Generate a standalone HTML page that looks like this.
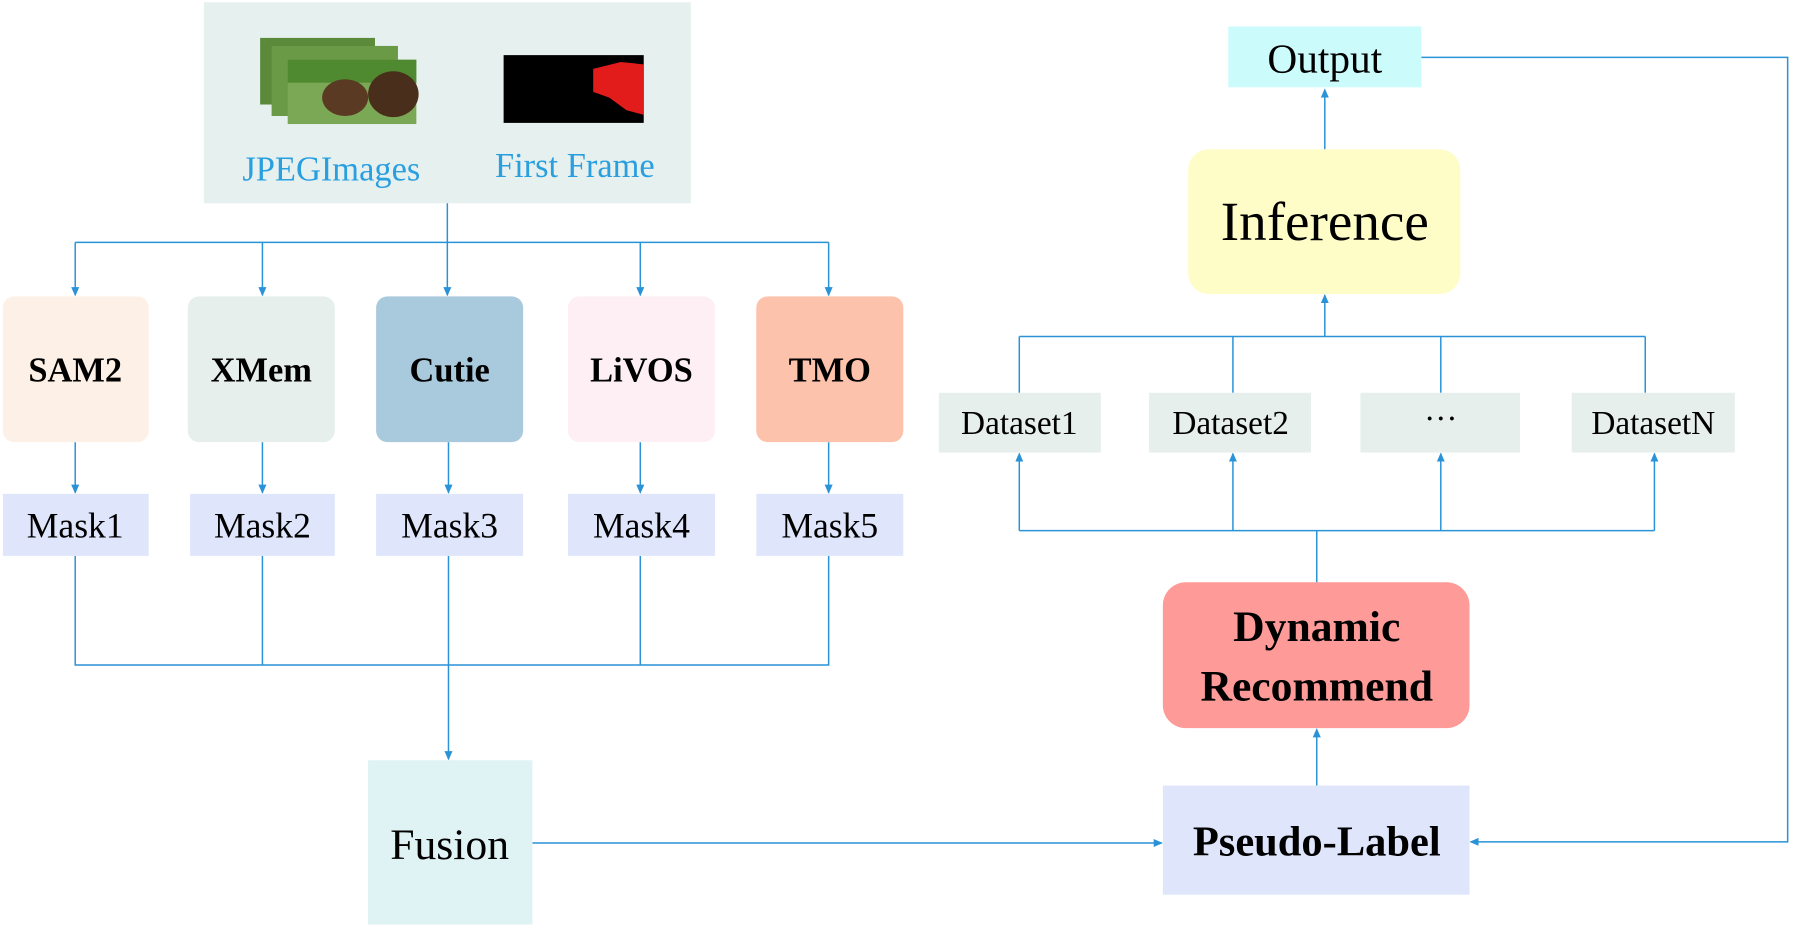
<!DOCTYPE html>
<html><head><meta charset="utf-8"><style>html,body{margin:0;padding:0;background:#fff;}svg{display:block}svg text{font-family:"Liberation Serif",serif;}</style></head>
<body>
<svg width="1802" height="928" viewBox="0 0 1568 808" xmlns="http://www.w3.org/2000/svg" font-family="'Liberation Serif', serif">
<defs><marker id="a" markerWidth="8" markerHeight="8" refX="7" refY="4" orient="auto" markerUnits="userSpaceOnUse"><path d="M0,0.5 L8,4 L0,7.5 Z" fill="#2a92d6"/></marker></defs>
<rect x="177" y="2" width="424" height="175" fill="#e6f0ef"/>
<rect x="226" y="33" width="100" height="58" fill="#5a8a3a"/>
<rect x="236" y="40" width="110" height="61" fill="#6a9a45"/>
<rect x="250" y="52" width="112" height="56" fill="#7aa855"/>
<rect x="250" y="52" width="112" height="20" fill="#4f8a30"/>
<ellipse cx="300" cy="85" rx="20" ry="16" fill="#5a3a22"/>
<ellipse cx="342" cy="82" rx="22" ry="20" fill="#4a2e1c"/>
<rect x="438" y="48" width="122" height="59" fill="#000"/>
<path d="M516,60 L540,54 L560,56 L560,100 L545,96 L530,85 L516,80 Z" fill="#e21b1b"/>
<text x="288" y="157" font-size="30" fill="#2a9fe0" text-anchor="middle">JPEGImages</text>
<text x="500" y="154" font-size="30" fill="#2a9fe0" text-anchor="middle">First Frame</text>
<g stroke="#2a92d6" stroke-width="1.3" fill="none">
<line x1="389" y1="177" x2="389" y2="211"/>
<line x1="65" y1="211" x2="721" y2="211"/>
<line x1="65" y1="211" x2="65" y2="257" marker-end="url(#a)"/>
<line x1="228" y1="211" x2="228" y2="257" marker-end="url(#a)"/>
<line x1="389" y1="211" x2="389" y2="257" marker-end="url(#a)"/>
<line x1="557" y1="211" x2="557" y2="257" marker-end="url(#a)"/>
<line x1="721" y1="211" x2="721" y2="257" marker-end="url(#a)"/>
<line x1="65" y1="385" x2="65" y2="429" marker-end="url(#a)"/>
<line x1="228" y1="385" x2="228" y2="429" marker-end="url(#a)"/>
<line x1="390" y1="385" x2="390" y2="429" marker-end="url(#a)"/>
<line x1="557" y1="385" x2="557" y2="429" marker-end="url(#a)"/>
<line x1="721" y1="385" x2="721" y2="429" marker-end="url(#a)"/>
<polyline points="65,484 65,579 721,579 721,484"/>
<line x1="228" y1="484" x2="228" y2="579"/>
<line x1="557" y1="484" x2="557" y2="579"/>
<line x1="390" y1="484" x2="390" y2="661" marker-end="url(#a)"/>
<line x1="463" y1="734" x2="1011" y2="734" marker-end="url(#a)"/>
<polyline points="1237,50 1556,50 1556,733 1280,733" marker-end="url(#a)"/>
<line x1="1153" y1="130" x2="1153" y2="78" marker-end="url(#a)"/>
<line x1="1153" y1="293" x2="1153" y2="257" marker-end="url(#a)"/>
<line x1="887" y1="293" x2="1432" y2="293"/>
<line x1="887" y1="293" x2="887" y2="342"/>
<line x1="1073" y1="293" x2="1073" y2="342"/>
<line x1="1254" y1="293" x2="1254" y2="342"/>
<line x1="1432" y1="293" x2="1432" y2="342"/>
<line x1="887" y1="462" x2="1440" y2="462"/>
<line x1="887" y1="462" x2="887" y2="395" marker-end="url(#a)"/>
<line x1="1073" y1="462" x2="1073" y2="395" marker-end="url(#a)"/>
<line x1="1254" y1="462" x2="1254" y2="395" marker-end="url(#a)"/>
<line x1="1440" y1="462" x2="1440" y2="395" marker-end="url(#a)"/>
<line x1="1146" y1="462" x2="1146" y2="507"/>
<line x1="1146" y1="684" x2="1146" y2="635" marker-end="url(#a)"/>
</g>
<g font-weight="bold" font-size="30" text-anchor="middle" fill="#000">
<rect x="2" y="258" width="127" height="127" rx="10" fill="#fdf0e6"/><text x="65" y="332">SAM2</text>
<rect x="163" y="258" width="128" height="127" rx="10" fill="#e6efec"/><text x="227" y="332">XMem</text>
<rect x="327" y="258" width="128" height="127" rx="10" fill="#a9c9dc"/><text x="391" y="332">Cutie</text>
<rect x="494" y="258" width="128" height="127" rx="10" fill="#fdeff3"/><text x="558" y="332">LiVOS</text>
<rect x="658" y="258" width="128" height="127" rx="10" fill="#fcc2ab"/><text x="722" y="332">TMO</text>
</g>
<g font-size="31" text-anchor="middle" fill="#000">
<rect x="2" y="430" width="127" height="54" fill="#dfe6fb"/><text x="65" y="468">Mask1</text>
<rect x="165" y="430" width="126" height="54" fill="#dfe6fb"/><text x="228" y="468">Mask2</text>
<rect x="327" y="430" width="128" height="54" fill="#dfe6fb"/><text x="391" y="468">Mask3</text>
<rect x="494" y="430" width="128" height="54" fill="#dfe6fb"/><text x="558" y="468">Mask4</text>
<rect x="658" y="430" width="128" height="54" fill="#dfe6fb"/><text x="722" y="468">Mask5</text>
<rect x="320" y="662" width="143" height="143" fill="#dff2f4"/><text x="391" y="748" font-size="38">Fusion</text>
<rect x="1069" y="23" width="168" height="53" fill="#ccfbfb"/><text x="1153" y="63" font-size="36">Output</text>
<rect x="1034" y="130" width="237" height="126" rx="18" fill="#fefdc8"/><text x="1153" y="209" font-size="48">Inference</text>
<rect x="817" y="342" width="141" height="52" fill="#e6efec"/><text x="887" y="378" font-size="29">Dataset1</text>
<rect x="1000" y="342" width="141" height="52" fill="#e6efec"/><text x="1071" y="378" font-size="29">Dataset2</text>
<rect x="1184" y="342" width="139" height="52" fill="#e6efec"/><text x="1254" y="374" font-size="29">···</text>
<rect x="1368" y="342" width="142" height="52" fill="#e6efec"/><text x="1439" y="378" font-size="29">DatasetN</text>
<rect x="1012" y="507" width="267" height="127" rx="20" fill="#fe9a98"/>
<text x="1146" y="558" font-size="38" font-weight="bold">Dynamic</text>
<text x="1146" y="610" font-size="38" font-weight="bold">Recommend</text>
<rect x="1012" y="684" width="267" height="95" fill="#dfe6fb"/>
<text x="1146" y="745" font-size="37" font-weight="bold">Pseudo-Label</text>
</g>
</svg>
</body></html>
